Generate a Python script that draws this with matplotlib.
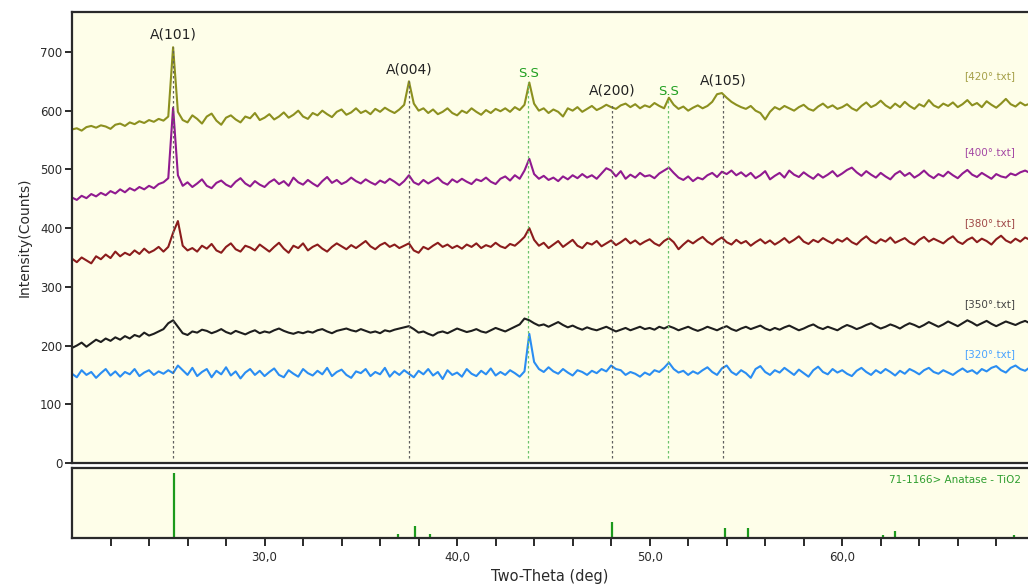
import numpy as np
import matplotlib.pyplot as plt
from matplotlib.ticker import FixedLocator, FuncFormatter

# scan axis: 20 -> 69.75 deg in 0.25 deg steps
two_theta = 20 + 0.25 * np.arange(200)

int_420 = [
    568, 570, 566, 572, 574, 571, 575, 573, 569, 576, 578, 574, 580, 577, 582, 579, 584, 581, 586, 583,
    590, 708, 598, 584, 580, 592, 586, 578, 590, 595, 583, 576, 588, 592, 585, 580, 590, 587, 596, 584,
    588, 594, 585, 590, 597, 588, 593, 600, 590, 586, 596, 592, 600, 594, 589, 598, 602, 593, 597, 604,
    596, 600, 594, 603, 598, 605, 600, 596, 602, 610, 650, 612, 600, 604, 596, 602, 594, 598, 604, 596,
    592, 600, 596, 604, 598, 593, 601, 596, 603, 599, 604, 598, 606, 601, 610, 648, 612, 600, 604, 596,
    602, 598, 590, 604, 600, 606, 598, 603, 608, 601, 605, 610, 606, 603, 609, 612, 606, 611, 604, 609,
    606, 613, 608, 604, 622, 610, 603, 607, 600, 605, 609, 604, 608, 615, 628, 630, 622, 615, 610, 606,
    603, 608, 600, 596, 585, 598, 606, 602, 608, 604, 600, 606, 610, 603, 600, 607, 612, 605, 609, 603,
    606, 611, 604, 600, 608, 614, 606, 610, 617, 609, 604, 612, 606, 615, 608, 603, 611, 607, 618, 609,
    605, 612, 608, 614, 606, 611, 618, 609, 613, 606, 616, 610, 605, 612, 620, 611, 607, 614, 609, 612,
]

int_400 = [
    452, 448, 455, 451, 458, 454, 460, 456, 463, 459, 466, 461, 468, 464, 470, 466, 472, 468, 475, 478,
    485, 605, 490, 472, 478, 470, 476, 483, 472, 468, 477, 481, 474, 470, 479, 485, 476, 471, 480, 474,
    470, 478, 483, 475, 480, 472, 486, 478, 474, 482, 476, 471, 480, 487, 477, 482, 475, 479, 486, 480,
    476, 483, 478, 474, 481, 477, 484, 479, 473, 480, 490, 478, 474, 482, 476, 481, 486, 478, 474, 483,
    478, 484, 479, 475, 483, 480, 486, 479, 475, 484, 488, 481, 490, 484, 498, 518, 492, 484, 489, 482,
    486, 480, 488, 483, 490, 485, 492, 486, 490, 484, 493, 502, 498, 488, 497, 484, 491, 486, 494, 488,
    490, 485, 493, 498, 503, 494, 486, 482, 488, 480, 486, 483, 490, 494, 487, 496, 492, 498, 490, 495,
    488, 494, 485, 490, 497, 483, 489, 494, 486, 498, 491, 487, 495, 489, 484, 492, 486, 491, 497, 488,
    493, 499, 503, 495, 489, 497, 491, 486, 494, 488, 483, 492, 497, 489, 494, 486, 491, 498, 490, 485,
    492, 488, 496, 490, 485, 493, 499, 491, 487, 494, 489, 484, 492, 488, 486, 493, 490, 495, 498, 494,
]

int_380 = [
    348, 342, 350, 345, 340, 352, 347, 355, 349, 360, 352, 358, 354, 362, 356, 365, 358, 362, 368, 360,
    368, 392, 412, 370, 362, 366, 360, 370, 365, 373, 362, 358, 368, 374, 364, 360, 370, 367, 362, 372,
    366, 360, 368, 375, 365, 358, 370, 366, 374, 362, 368, 372, 365, 360, 368, 374, 369, 364, 371, 366,
    372, 378, 369, 364, 371, 375, 368, 372, 366, 370, 374, 362, 358, 368, 364, 370, 375, 368, 372, 366,
    370, 365, 372, 368, 374, 366, 371, 368, 375, 369, 366, 373, 370, 377, 385, 400, 380, 370, 375, 366,
    372, 378, 368, 374, 380, 370, 366, 375, 372, 378, 369, 374, 379, 371, 376, 382, 374, 379, 372, 377,
    381, 374, 370, 378, 383, 376, 364, 372, 379, 374, 380, 385, 377, 372, 379, 384, 376, 372, 380, 374,
    378, 370, 376, 381, 374, 379, 372, 377, 383, 375, 380, 386, 377, 373, 380, 376, 383, 378, 374, 381,
    377, 383, 376, 372, 380, 386, 378, 374, 381, 377, 384, 375, 379, 383, 376, 372, 380, 385, 377, 382,
    378, 374, 381, 386, 377, 373, 380, 384, 376, 382, 378, 372, 381, 387, 379, 375, 382, 377, 384, 380,
]

int_350 = [
    196, 200, 205, 198, 204, 210, 206, 212, 208, 214, 210, 216, 212, 218, 215, 222, 217, 220, 224, 228,
    238, 243, 232, 221, 218, 224, 222, 227, 225, 221, 224, 228, 223, 220, 225, 222, 219, 223, 226, 221,
    224, 222, 226, 229, 225, 222, 220, 223, 221, 224, 222, 226, 228, 224, 221, 225, 227, 229, 226, 224,
    228, 225, 222, 224, 221, 226, 224, 227, 229, 231, 233, 228, 222, 224, 220, 217, 222, 224, 221, 225,
    229, 226, 223, 225, 228, 224, 222, 226, 230, 227, 224, 228, 232, 236, 246, 243, 238, 234, 236, 232,
    236, 240, 235, 231, 234, 230, 227, 231, 228, 226, 229, 232, 228, 224, 227, 230, 226, 229, 232, 228,
    230, 227, 232, 229, 233, 230, 226, 229, 232, 228, 225, 228, 232, 229, 226, 230, 233, 228, 225, 229,
    232, 228, 231, 234, 229, 226, 230, 227, 231, 234, 230, 226, 229, 233, 236, 231, 228, 232, 229, 226,
    231, 235, 232, 228, 231, 235, 238, 233, 229, 232, 236, 233, 229, 234, 238, 235, 231, 235, 240, 236,
    232, 236, 241, 237, 233, 238, 243, 239, 234, 238, 242, 237, 233, 237, 241, 238, 235, 239, 242, 238,
]

int_320 = [
    152, 146, 158, 150, 155, 145, 153, 160, 149, 156, 147, 155, 151, 160, 148, 154, 158, 150, 156, 152,
    158, 153, 166, 158, 150, 162, 148, 155, 160, 146, 157, 151, 163, 149, 156, 144, 154, 160, 150, 157,
    148, 155, 161, 150, 146, 158, 152, 147, 160, 153, 149, 157, 151, 162, 148, 155, 159, 150, 145, 156,
    153, 160, 148, 155, 151, 162, 147, 156, 150, 158, 152, 146, 157, 151, 160, 149, 155, 143, 158, 150,
    154, 147, 160, 152, 148, 157, 151, 161, 149, 155, 150, 158, 153, 147, 156, 220, 172, 160, 155, 163,
    156, 152, 160, 154, 149, 158, 155, 150, 157, 153, 160, 156, 166, 160, 158, 150, 155, 152, 147, 154,
    150, 158, 155, 162, 171, 160, 154, 157, 150, 156, 152, 158, 163, 155, 150, 161, 166, 155, 150, 158,
    153, 145, 160, 165, 155, 150, 158, 154, 162, 156, 150, 159, 153, 147, 158, 164, 155, 151, 160, 154,
    158, 152, 148, 157, 162, 155, 150, 158, 153, 160, 155, 149, 157, 152, 160, 156, 151, 158, 162, 155,
    152, 158, 154, 150, 156, 161, 155, 158, 152, 160, 156, 162, 165, 158, 154, 162, 166, 160, 157, 163,
]

series_names = ["[420°.txt]", "[400°.txt]", "[380°.txt]", "[350°.txt]", "[320°.txt]"]
series_data = [int_420, int_400, int_380, int_350, int_320]
line_colors = ["#8c901f", "#901a90", "#8b1c1c", "#1e1e1e", "#2a8df2"]
label_colors = ["#a5a048", "#a448a4", "#a04848", "#444444", "#4aa3ff"]
label_y = [659, 530, 409, 271, 186]

# peak markers: position, label, label height, top of guide line
peak_pos = [25.25, 37.5, 43.7, 48.06, 50.97, 53.8]
peak_text = ["A(101)", "A(004)", "S.S", "A(200)", "S.S", "A(105)"]
peak_text_y = [718, 658, 652, 622, 622, 640]
peak_line_top = [708, 650, 648, 612, 622, 630]
peak_is_ss = [False, False, True, False, True, False]

# reference card 71-1166 (anatase TiO2) stick pattern
ref_pos = [25.3, 36.95, 37.8, 38.6, 48.05, 53.9, 55.1, 62.1, 62.75, 68.9]
ref_int = [100, 6, 18, 6, 25, 16, 16, 4, 11, 5]

x_ticks = list(range(22, 70, 2))

bg = "#fefee9"
fig = plt.figure(figsize=(10.28, 5.85), dpi=100)
ax = fig.add_axes([72 / 1028, 1 - 463 / 585, 1 - 72 / 1028, 451 / 585])
ax2 = fig.add_axes([72 / 1028, 1 - 538 / 585, 1 - 72 / 1028, 70 / 585])

for a in (ax, ax2):
    a.set_facecolor(bg)
    a.set_xlim(20, 69.65)
    a.spines["right"].set_visible(False)
    for s in ("left", "top", "bottom"):
        a.spines[s].set_linewidth(1.6)
        a.spines[s].set_color("#2a2a2a")

for y, c, name, lc, ly in zip(series_data, line_colors, series_names, label_colors, label_y):
    ax.plot(two_theta, y, color=c, lw=1.5)
    ax.text(69.0, ly, name, color=lc, fontsize=7.5, ha="right", va="center")

for x, t, ty, top, ss in zip(peak_pos, peak_text, peak_text_y, peak_line_top, peak_is_ss):
    lc = "#6cc46c" if ss else "#606060"
    ax.vlines(x, 8, top, colors=lc, linestyles=(0, (2, 2)), lw=0.9)
    ax.text(x, ty, t, color="#22a022" if ss else "#222222",
            fontsize=10 if not ss else 9.5, ha="center", va="bottom")

ax.set_ylim(0, 768)
ax.set_yticks(range(0, 800, 100))
ax.tick_params(axis="y", direction="out", length=5, width=1.4, labelsize=8.5,
               colors="#2a2a2a", pad=2)
ax.tick_params(axis="x", bottom=False, labelbottom=False)
ax.set_ylabel("Intensity(Counts)", fontsize=10, color="#2a2a2a", labelpad=6)

ax2.vlines(ref_pos, 0, ref_int, colors="#1c9a1c", lw=1.6)
ax2.set_ylim(0, 108)
ax2.set_yticks([])
ax2.text(69.3, 90, "71-1166> Anatase - TiO2", color="#2e9e2e", fontsize=7.5,
         ha="right", va="center")
ax2.xaxis.set_major_locator(FixedLocator(x_ticks))
ax2.xaxis.set_major_formatter(FuncFormatter(
    lambda v, p: f"{v:.1f}".replace(".", ",") if round(v) % 10 == 0 else ""))
ax2.tick_params(axis="x", direction="out", length=6, width=1.4, labelsize=8.5,
                colors="#2a2a2a", pad=3)
ax2.set_xlabel("Two-Theta (deg)", fontsize=10.5, color="#2a2a2a", labelpad=4)

fig.savefig("out.png", dpi=100, facecolor="white")
